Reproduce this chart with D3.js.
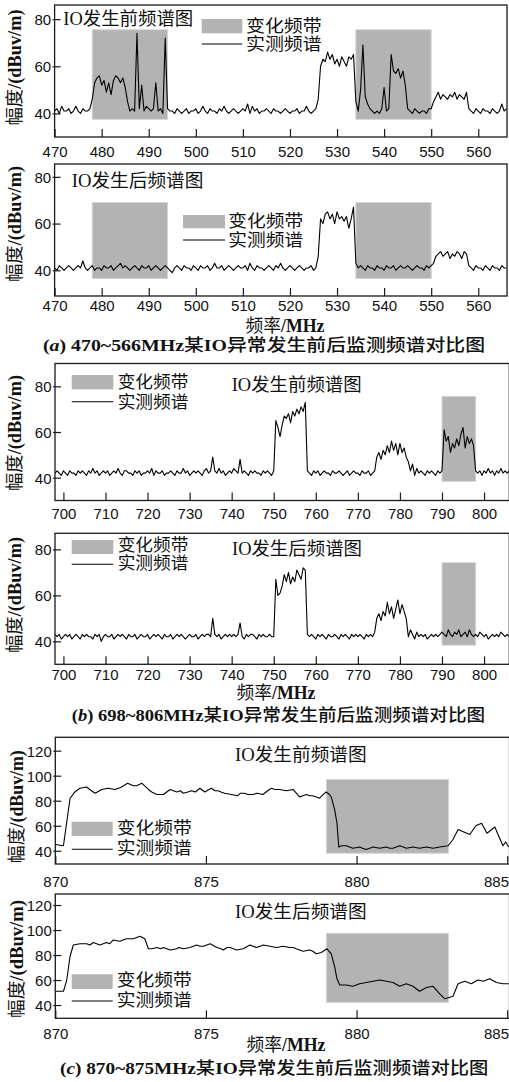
<!DOCTYPE html>
<html><head><meta charset="utf-8">
<script src="https://cdn.jsdelivr.net/npm/d3@7"></script>
<style>body{margin:0;background:#fff}svg{display:block}</style>
</head><body>
<svg id="c" width="509" height="1082"></svg>
<script>
// ---------------- DATA ----------------
const STEP = 0.5;
// (a) 470~566 MHz, before IO (values every 0.5 MHz, rows of 5 MHz)
const aStart = 470;
const aBefore = [
 41,42,40,43,41,41,42,40,41,43, // 470
 41,40,42,41,41,42,46,53,55,56, // 475
 52,54,49,53,48,54,56,55,53,55, // 480
 51,45,41,42,41,74,42,52,41,43, // 485
 42,41,42,53,41,42,40,72,42,41, // 490
 41,40,42,41,40,41,42,40,41,41, // 495
 42,40,41,43,41,40,42,41,41,40, // 500
 42,41,43,41,40,41,42,41,40,41, // 505
 42,41,44,40,43,41,42,40,41,41, // 510
 42,41,40,42,41,41,40,41,42,41, // 515
 40,41,41,42,40,41,41,43,41,40, // 520
 41,42,46,60,63,62,66,63,65,61, // 525
 63,60,64,62,60,64,63,65,45,41, // 530
 50,69,47,44,42,41,40,41,40,42, // 535
 51,41,42,65,58,57,59,55,58,52, // 540
 42,41,40,42,41,40,41,41,40,42, // 545
 42,45,47,49,46,48,47,46,48,47, // 550
 49,46,48,47,46,49,42,41,40,42, // 555
 41,40,42,41,41,40,42,41,40,41, // 560
 44,41,42                        // 565
];
const aAfter = [
 41,40,42,41,40,41,42,41,40,41, // 470
 42,41,44,41,40,41,42,40,41,41, // 475
 40,42,41,41,42,40,41,42,43,41, // 480
 42,41,40,41,42,41,40,42,41,41, // 485
 42,40,41,42,41,40,41,42,41,40, // 490
 39,41,42,41,40,42,41,41,40,42, // 495
 41,40,42,41,41,42,40,41,43,41, // 500
 41,42,40,41,42,41,40,41,42,41, // 505
 41,42,40,43,41,40,42,41,41,40, // 510
 41,42,41,40,42,41,43,41,40,41, // 515
 42,41,40,41,42,41,40,41,41,42, // 520
 40,41,46,62,60,64,65,62,64,60, // 525
 65,62,63,61,63,58,62,67,43,41, // 530
 42,41,40,42,41,41,40,42,41,41, // 535
 40,42,41,41,42,40,41,42,41,41, // 540
 42,41,40,41,42,41,41,40,42,41, // 545
 42,43,46,47,48,46,47,48,45,47, // 550
 46,48,47,45,48,47,42,41,40,42, // 555
 41,41,40,42,41,40,42,41,41,40, // 560
 42,41,41                        // 565
];
// (b) 698~806 MHz
const bStart = 698;
const bBefore = [
 42,43,42,41,                    // 698
 43,42,41,43,42,42,41,43,42,43, // 700
 42,41,43,42,44,42,43,41,42,43, // 705
 42,43,41,42,43,42,44,42,41,43, // 710
 43,42,42,41,43,42,43,41,42,42, // 715
 43,42,44,41,43,42,42,43,41,42, // 720
 42,43,42,41,43,42,42,44,42,43, // 725
 41,42,43,42,43,42,41,43,44,42, // 730
 43,49,43,42,44,42,43,41,42,43, // 735
 42,44,43,42,48,42,43,42,41,43, // 740
 42,43,42,42,41,43,42,43,42,41, // 745
 43,65,62,58,63,67,66,68,64,69, // 750
 67,70,68,71,69,73,43,42,41,43, // 755
 42,43,41,42,43,42,42,41,43,42, // 760
 42,43,42,41,42,43,41,42,43,42, // 765
 42,41,43,42,42,43,41,42,43,49, // 770
 51,48,52,50,54,51,56,52,55,50, // 775
 55,51,53,49,47,43,46,41,44,42, // 780
 43,42,41,43,42,43,42,41,43,42, // 785
 43,61,56,58,51,55,53,57,54,59, // 790
 62,53,58,55,57,54,43,42,43,41, // 795
 43,42,44,42,43,41,43,42,44,42, // 800
 43,42,43                        // 805
];
const bAfter = [
 43,42,43,41,                    // 698
 42,43,42,43,41,42,43,42,41,43, // 700
 42,43,42,42,41,43,42,43,40,42, // 705
 43,42,42,43,41,42,43,42,43,42, // 710
 41,43,42,42,43,41,42,43,42,42, // 715
 43,41,42,43,42,43,42,41,43,42, // 720
 42,43,41,42,43,42,43,42,41,42, // 725
 43,42,42,43,41,42,43,42,43,43, // 730
 42,50,43,42,43,41,42,43,42,43, // 735
 42,43,42,43,48,42,41,43,42,43, // 740
 43,42,41,43,42,43,42,42,43,42, // 745
 42,67,60,61,64,69,66,70,65,68, // 750
 66,71,69,67,72,71,43,42,43,42, // 755
 41,43,42,43,42,41,43,42,42,43, // 760
 42,41,43,42,43,42,41,43,42,43, // 765
 42,43,42,41,43,42,43,42,44,50, // 770
 52,49,53,51,57,52,55,50,54,58, // 775
 52,56,53,50,42,45,43,41,44,42, // 780
 43,42,43,41,42,43,42,43,42,43, // 785
 44,43,42,45,43,42,44,43,45,42, // 790
 43,44,42,45,43,42,43,42,44,43, // 795
 42,43,41,42,43,42,43,42,44,43, // 800
 42,43,42                        // 805
];
// (c) 870~885 MHz  [MHz, dBuV/m]
const cBefore = [[870,45],[870.27,44],[870.49,82],[870.65,87],[870.82,90],[871.04,91],[871.2,88],[871.32,86],[871.54,89],[871.76,90],[871.98,89],[872.1,90],[872.2,91],[872.4,94],[872.59,92],[872.7,92],[872.87,94],[873.09,89],[873.2,87],[873.37,85],[873.59,85],[873.7,87],[873.81,89],[874.03,87],[874.15,88],[874.25,86],[874.4,87],[874.52,88],[874.65,87],[874.8,90],[874.96,87],[875.18,90],[875.3,88],[875.4,88],[875.5,87],[875.62,86],[875.84,85],[876.06,84],[876.15,86],[876.28,86],[876.4,85],[876.56,85],[876.7,86],[876.89,85],[877.05,88],[877.17,90],[877.3,89],[877.45,89],[877.67,88],[877.89,89],[878.0,86],[878.11,83],[878.33,85],[878.45,84],[878.55,84],[878.66,83],[878.77,82],[878.9,85],[878.99,87],[879.1,85],[879.16,83],[879.27,73],[879.35,62],[879.41,43],[879.5,44],[879.66,44],[879.88,42],[880.1,43],[880.2,42],[880.32,41],[880.55,43],[880.77,42],[880.99,43],[881.1,42],[881.21,42],[881.43,44],[881.55,43],[881.65,42],[881.87,43],[882.09,42],[882.32,43],[882.54,42],[882.76,43],[883.04,44],[883.2,49],[883.37,57],[883.56,55],[883.76,53],[883.96,60],[884.15,62],[884.33,54],[884.59,59],[884.75,50],[884.86,44],[884.95,47],[885.05,43]];
const cAfter = [[870,51],[870.27,51],[870.38,60],[870.49,79],[870.6,88],[870.82,89],[871.04,89],[871.15,88],[871.26,90],[871.48,88],[871.7,90],[871.8,89],[871.92,92],[872.14,91],[872.36,93],[872.59,93],[872.81,95],[872.97,93],[873.09,85],[873.2,85],[873.37,86],[873.5,85],[873.59,86],[873.81,84],[874.03,85],[874.1,86],[874.25,85],[874.47,86],[874.69,88],[874.8,87],[874.92,87],[875.14,89],[875.36,86],[875.5,85],[875.58,84],[875.7,86],[875.8,86],[876.02,84],[876.24,85],[876.46,88],[876.68,86],[876.8,87],[876.9,88],[877.12,87],[877.34,86],[877.56,87],[877.78,86],[877.9,86],[878.0,85],[878.22,83],[878.44,84],[878.55,83],[878.66,81],[878.83,82],[879.02,85],[879.16,81],[879.27,71],[879.35,61],[879.44,56],[879.66,56],[879.88,55],[880.1,57],[880.32,58],[880.55,59],[880.77,60],[880.99,59],[881.21,58],[881.43,55],[881.65,57],[881.87,55],[882.09,51],[882.32,54],[882.54,55],[882.76,49],[882.93,45],[883.07,46],[883.2,47],[883.37,57],[883.59,59],[883.81,57],[884.03,60],[884.2,59],[884.42,61],[884.64,58],[884.86,57],[885.05,57]];

// changed bands [from MHz, to MHz] and band amplitude extents
const bandsA = [[478,494],[534,550]];
const bandsB = [[790,798]];
const bandsC = [[879,883.05]];
const bandAmpA1 = [37.5,75.5], bandAmpA2 = [36.5,69];
const bandAmpB1 = [38.4,75.6], bandAmpB2 = [38.3,74.2];
const bandAmpC1 = [38,97], bandAmpC2 = [42.2,97.4];

const ticksA = [470,480,490,500,510,520,530,540,550,560];
const ticksB = [700,710,720,730,740,750,760,770,780,790,800];
const ticksC = [870,875,880,885];
const yTicksAB = [40,60,80];
const yTicksC = [40,60,80,100,120];

const titleBefore = "发生前频谱图", titleAfter = "发生后频谱图";
const legendBand = "变化频带", legendLine = "实测频谱";
const captions = [["a","470~566MHz"],["b","698~806MHz"],["c","870~875MHz"]];
const captionRest = "异常发生前后监测频谱对比图";

// ---------------- LAYOUT ----------------
const series = (start, vals) => vals.map((v,i)=>[start + i*STEP, v]);
const CJK = "'Noto Sans CJK SC', sans-serif";
const SERIF = "'Liberation Serif', serif";
const SANS = "'Liberation Sans', Arial, sans-serif";

const panels = [
 {data: series(aStart,aBefore), xd:[470,566], xr:[54.6,506.5], right:507, yd:[30,86], top:5, bottom:137,
  bands:bandsA, amp:bandAmpA1, xt:ticksA, yt:yTicksAB, xlab:14.5,
  title:[titleBefore,63.3,18.5,130], ylab:[15,67.5,116],
  leg:{rx:201.7,rw:40.6,ry:19,rh:14.3,ly:44,tx:246,t1:26,t2:43.5,tw:75.7}},
 {data: series(aStart,aAfter), xd:[470,566], xr:[54.6,506.5], right:507, yd:[29,85.5], top:164, bottom:296,
  bands:bandsA, amp:bandAmpA2, xt:ticksA, yt:yTicksAB, xlab:9.5,
  title:[titleAfter,71.7,180.5,131.7], ylab:[15,224,116],
  leg:{rx:183,rw:42,ry:215,rh:13.3,ly:240,tx:228.3,t1:220.5,t2:239.5,tw:75}},
 {data: series(bStart,bBefore), xd:[698,806], xr:[55,509.3], right:509.3, yd:[30,90], top:363.5, bottom:500.5,
  bands:bandsB, amp:bandAmpB1, xt:ticksB, yt:yTicksAB, xlab:13,
  title:[titleBefore,231.7,385,130], ylab:[15,433,116],
  leg:{rx:71.7,rw:41.6,ry:375,rh:14.3,ly:401.7,tx:117.7,t1:381.7,t2:401.5,tw:70.7}},
 {data: series(bStart,bAfter), xd:[698,806], xr:[55,509.3], right:509.3, yd:[30,87], top:533.3, bottom:664.3,
  bands:bandsB, amp:bandAmpB2, xt:ticksB, yt:yTicksAB, xlab:10.7,
  title:[titleAfter,232,549,130], ylab:[15,595,116],
  leg:{rx:71.7,rw:41.6,ry:540,rh:14,ly:564.3,tx:117.7,t1:545,t2:563.3,tw:70.7}},
 {data: cBefore, xd:[870,885.06], xr:[55.3,509], right:509.5, yd:[29.4,130.7], top:737.3, bottom:864,
  bands:bandsC, amp:bandAmpC1, xt:ticksC, yt:yTicksC, xlab:17.7,
  title:[titleBefore,235,755,131.7], ylab:[16.7,806.7,113],
  leg:{rx:71.7,rw:41,ry:821.7,rh:14.3,ly:849.3,tx:116.7,t1:828.3,t2:848,tw:75}},
 {data: cAfter, xd:[870,885.06], xr:[55.3,509], right:509.5, yd:[29.4,128.8], top:894, bottom:1018.3,
  bands:bandsC, amp:bandAmpC2, xt:ticksC, yt:yTicksC, xlab:15,
  title:[titleAfter,235,911.7,131.7], ylab:[16.7,959,118],
  leg:{rx:71.7,rw:41,ry:974.3,rh:14.7,ly:1001,tx:116.7,t1:980,t2:1000,tw:75}}
];
const xLabels = [[285,325.7],[276,693],[286,1045]];
const capPos = [[43,345,442],[71.7,715,413.3],[60,1068.3,428.3]];

// ---------------- DRAW ----------------
const svg = d3.select("#c");
const defs = svg.append("defs");

panels.forEach((p,k)=>{
  const x = d3.scaleLinear().domain(p.xd).range(p.xr);
  const y = d3.scaleLinear().domain(p.yd).range([p.bottom,p.top]);
  const g = svg.append("g");
  const cid = "clip"+k;
  defs.append("clipPath").attr("id",cid).append("rect")
    .attr("x",p.xr[0]).attr("y",p.top).attr("width",p.right-p.xr[0]).attr("height",p.bottom-p.top);

  g.selectAll("rect.band").data(p.bands).join("rect").attr("class","band")
    .attr("x",d=>x(d[0])).attr("width",d=>x(d[1])-x(d[0]))
    .attr("y",y(p.amp[1])).attr("height",y(p.amp[0])-y(p.amp[1]))
    .attr("fill","#b3b3b3").attr("stroke","#d4d4d4").attr("stroke-width",1);

  g.append("path").datum(p.data).attr("clip-path",`url(#${cid})`)
    .attr("d",d3.line().x(d=>x(d[0])).y(d=>y(d[1])))
    .attr("fill","none").attr("stroke","#000").attr("stroke-width",1.1).attr("stroke-linejoin","round");

  g.append("rect").attr("x",p.xr[0]).attr("y",p.top).attr("width",p.right-p.xr[0]).attr("height",p.bottom-p.top)
    .attr("fill","none").attr("stroke","#1a1a1a").attr("stroke-width",1.3);

  const xa = g.append("g").attr("transform",`translate(0,${p.bottom})`)
    .call(d3.axisBottom(x).tickValues(p.xt).tickSize(-8).tickFormat(d3.format("d")));
  xa.select(".domain").remove();
  xa.selectAll(".tick line").attr("stroke","#1a1a1a").attr("stroke-width",1.2);
  xa.selectAll(".tick text").attr("y",p.xlab).attr("dy","0.36em")
    .style("font-family",SANS).style("font-size","15px").attr("fill","#111");
  if (p.xd[0]===870) {
    xa.selectAll(".tick text").filter(d=>d===885).attr("text-anchor","end").attr("x",508.5 - x(885));
  }

  const ya = g.append("g").attr("transform",`translate(${p.xr[0]},0)`)
    .call(d3.axisLeft(y).tickValues(p.yt).tickSize(-6).tickPadding(4).tickFormat(d3.format("d")));
  ya.select(".domain").remove();
  ya.selectAll(".tick line").attr("stroke","#1a1a1a").attr("stroke-width",1.2).attr("x1",-2);
  ya.selectAll(".tick text").attr("x",-3.5).attr("dy","0.36em")
    .style("font-family",SANS).style("font-size","15px").attr("fill","#111");

  // title
  const t = g.append("text").attr("x",p.title[1]).attr("y",p.title[2]).attr("dy","0.36em")
    .attr("textLength",p.title[3]).attr("lengthAdjust","spacingAndGlyphs")
    .style("font-size","18px").attr("fill","#111");
  t.append("tspan").style("font-family",SERIF).text("IO");
  t.append("tspan").style("font-family",CJK).text(p.title[0]);

  // y label
  const yl = g.append("text").attr("transform",`translate(${p.ylab[0]},${p.ylab[1]}) rotate(-90)`)
    .attr("text-anchor","middle").attr("dy","0.36em").attr("textLength",p.ylab[2]).attr("lengthAdjust","spacingAndGlyphs")
    .style("font-size","18px").attr("fill","#111");
  yl.append("tspan").style("font-family",CJK).text("幅度");
  yl.append("tspan").style("font-family",SERIF).style("font-weight","bold").text("/(dBuv/m)");

  // legend
  const L = p.leg;
  g.append("rect").attr("x",L.rx).attr("y",L.ry).attr("width",L.rw).attr("height",L.rh).attr("fill","#b3b3b3");
  g.append("line").attr("x1",L.rx).attr("x2",L.rx+L.rw).attr("y1",L.ly).attr("y2",L.ly).attr("stroke","#000").attr("stroke-width",1.1);
  g.append("text").attr("x",L.tx).attr("y",L.t1).attr("dy","0.36em").attr("textLength",L.tw).attr("lengthAdjust","spacingAndGlyphs")
    .style("font-family",CJK).style("font-size","17px").attr("fill","#111").text(legendBand);
  g.append("text").attr("x",L.tx).attr("y",L.t2).attr("dy","0.36em").attr("textLength",L.tw).attr("lengthAdjust","spacingAndGlyphs")
    .style("font-family",CJK).style("font-size","17px").attr("fill","#111").text(legendLine);
});

// x-axis titles & captions
xLabels.forEach(([cx,cy])=>{
  const t = svg.append("text").attr("x",cx).attr("y",cy).attr("text-anchor","middle").attr("dy","0.36em")
    .attr("textLength",79).attr("lengthAdjust","spacingAndGlyphs").style("font-size","18px").attr("fill","#111");
  t.append("tspan").style("font-family",CJK).text("频率");
  t.append("tspan").style("font-family",SERIF).style("font-weight","bold").text("/MHz");
});
captions.forEach(([letter,range],i)=>{
  const [cx,cy,w] = capPos[i];
  const t = svg.append("text").attr("x",cx).attr("y",cy).attr("dy","0.36em")
    .attr("textLength",w).attr("lengthAdjust","spacingAndGlyphs").style("font-size","17px").attr("fill","#111");
  t.append("tspan").style("font-family",SERIF).style("font-weight","bold").text("(");
  t.append("tspan").style("font-family",SERIF).style("font-weight","bold").style("font-style","italic").text(letter);
  t.append("tspan").style("font-family",SERIF).style("font-weight","bold").text(") "+range);
  t.append("tspan").style("font-family",CJK).style("font-weight","500").text("某");
  t.append("tspan").style("font-family",SERIF).style("font-weight","bold").text("IO");
  t.append("tspan").style("font-family",CJK).style("font-weight","500").text(captionRest);
});
</script>
</body></html>
